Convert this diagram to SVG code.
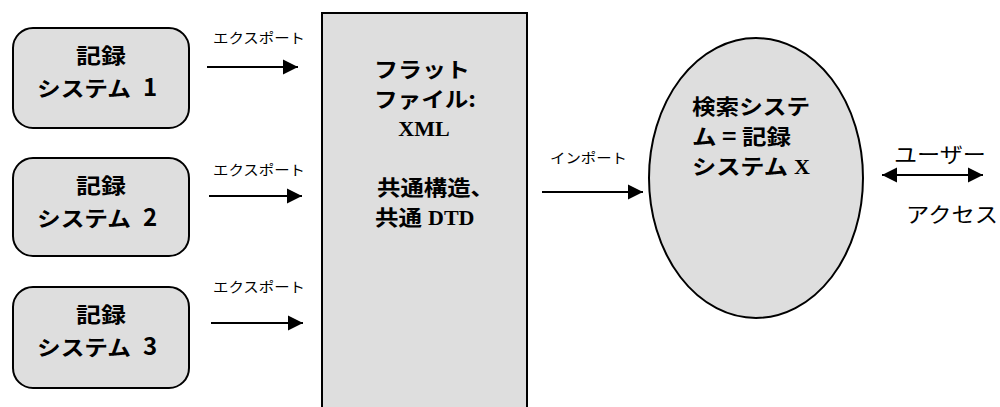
<svg xmlns="http://www.w3.org/2000/svg" width="1000" height="407" viewBox="0 0 1000 407">
<style>
.node{fill:#dedede;stroke:#000;stroke-width:2}
.big{font-family:"Noto Sans CJK JP","Noto Sans",sans-serif;font-size:21px;font-weight:bold;fill:#000}
.num{font-family:"Noto Sans CJK JP","Noto Sans",sans-serif;font-size:24px;font-weight:bold;fill:#000}
.serif{font-family:"Liberation Serif","Times New Roman",serif;font-weight:bold;font-size:22px;fill:#000}
.lbl{font-family:"Noto Sans CJK JP","Noto Sans",sans-serif;font-size:14px;fill:#000}
.lbl2{font-family:"Noto Sans CJK JP","Noto Sans",sans-serif;font-size:21px;fill:#000}
.conn{stroke:#000;stroke-width:2;fill:none}
</style>
<defs>
<marker id="ah" markerUnits="userSpaceOnUse" markerWidth="16" markerHeight="16" refX="15" refY="8" orient="auto-start-reverse">
<path d="M0,0.5 L15,8 L0,15.5 Z" fill="#000"/>
</marker>
</defs>
<rect width="1000" height="407" fill="#fff"/>
<g id="sys1">
<rect class="node" x="13" y="28" width="176" height="100" rx="20"/>
<text class="big" x="101" y="63" text-anchor="middle" textLength="50" lengthAdjust="spacingAndGlyphs">記録</text>
<text class="big" x="37" y="96" textLength="94" lengthAdjust="spacingAndGlyphs">システム</text>
<text class="num" x="150" y="96" text-anchor="middle">1</text>
</g>
<g id="sys2">
<rect class="node" x="13" y="158" width="176" height="98" rx="20"/>
<text class="big" x="101" y="193" text-anchor="middle" textLength="50" lengthAdjust="spacingAndGlyphs">記録</text>
<text class="big" x="37" y="226" textLength="94" lengthAdjust="spacingAndGlyphs">システム</text>
<text class="num" x="150" y="226" text-anchor="middle">2</text>
</g>
<g id="sys3">
<rect class="node" x="13" y="287" width="176" height="101" rx="20"/>
<text class="big" x="101" y="322" text-anchor="middle" textLength="50" lengthAdjust="spacingAndGlyphs">記録</text>
<text class="big" x="37" y="355" textLength="94" lengthAdjust="spacingAndGlyphs">システム</text>
<text class="num" x="150" y="355" text-anchor="middle">3</text>
</g>
<g id="flatfile">
<rect class="node" x="322" y="13" width="205" height="400"/>
<text class="big" x="422" y="77" text-anchor="middle" textLength="96" lengthAdjust="spacingAndGlyphs">フラット</text>
<text class="big" x="425" y="107" text-anchor="middle" textLength="102" lengthAdjust="spacingAndGlyphs">ファイル:</text>
<text class="serif" x="424" y="136" text-anchor="middle">XML</text>
<text class="big" x="377" y="195" textLength="117" lengthAdjust="spacingAndGlyphs">共通構造、</text>
<text class="big" x="375" y="225" textLength="47" lengthAdjust="spacingAndGlyphs">共通</text>
<text class="serif" x="428" y="225">DTD</text>
</g>
<g id="search">
<ellipse class="node" cx="756" cy="178" rx="107" ry="140"/>
<text class="big" x="692" y="114" textLength="118" lengthAdjust="spacingAndGlyphs">検索システ</text>
<text class="big" x="692" y="144" textLength="99" lengthAdjust="spacingAndGlyphs">ム = 記録</text>
<text class="big" x="692" y="174" textLength="96" lengthAdjust="spacingAndGlyphs">システム</text>
<text class="serif" x="794" y="174">X</text>
</g>
<g id="connectors">
<line class="conn" x1="207" y1="67" x2="298" y2="67" marker-end="url(#ah)"/>
<line class="conn" x1="209" y1="196" x2="302" y2="196" marker-end="url(#ah)"/>
<line class="conn" x1="211" y1="323" x2="303" y2="323" marker-end="url(#ah)"/>
<line class="conn" x1="542" y1="192" x2="643" y2="192" marker-end="url(#ah)"/>
<line class="conn" x1="882" y1="175" x2="983" y2="175" marker-start="url(#ah)" marker-end="url(#ah)"/>
<text class="lbl" x="213" y="43" textLength="92" lengthAdjust="spacingAndGlyphs">エクスポート</text>
<text class="lbl" x="213" y="175" textLength="92" lengthAdjust="spacingAndGlyphs">エクスポート</text>
<text class="lbl" x="213" y="292" textLength="92" lengthAdjust="spacingAndGlyphs">エクスポート</text>
<text class="lbl" x="550" y="163" textLength="77" lengthAdjust="spacingAndGlyphs">インポート</text>
<text class="lbl2" x="894" y="162" textLength="92" lengthAdjust="spacingAndGlyphs">ユーザー</text>
<text class="lbl2" x="906" y="222" textLength="92" lengthAdjust="spacingAndGlyphs">アクセス</text>
</g>
</svg>
